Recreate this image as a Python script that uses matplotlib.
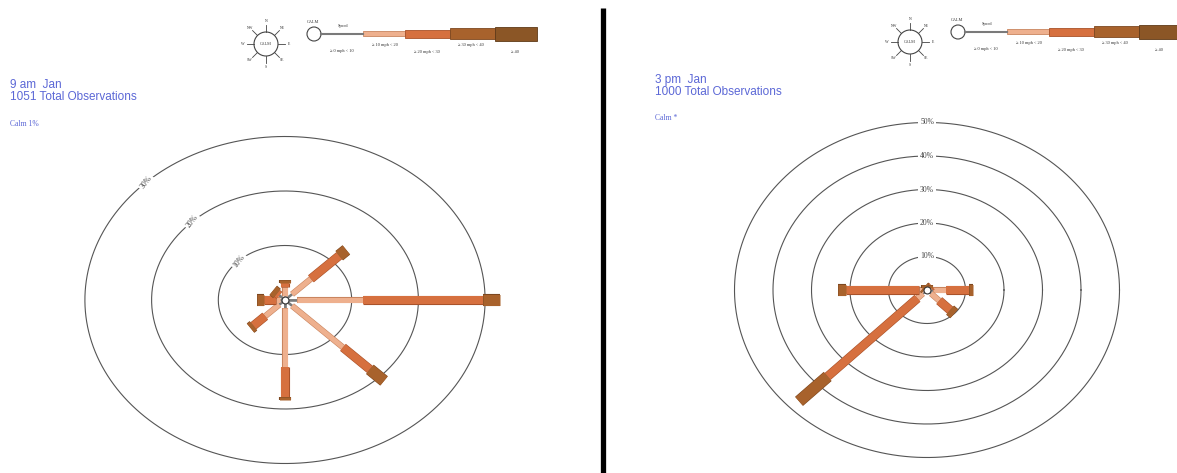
import numpy as np
import matplotlib.pyplot as plt
import matplotlib.patheffects as pe
from matplotlib.patches import Circle, Rectangle

W, H = 1177, 473

directions = ['N', 'NE', 'E', 'SE', 'S', 'SW', 'W', 'NW']
bearings = [0, 45, 90, 135, 180, 225, 270, 315]
speed_labels = ['≥ 0 mph < 10', '≥ 10 mph < 20', '≥ 20 mph < 30', '≥ 30 mph < 40', '≥ 40']
speed_colors = ['#7a7a7a', '#eeb08e', '#d6703f', '#a8622c', '#8b5626']
speed_edges = ['#7a7a7a', '#c9855f', '#a9522a', '#7d4820', '#5f3a18']
speed_widths = [1.5, 5, 8, 11, 14]  # px

# 9 am Jan, % of observations per direction and speed class
am_0_10 = [0.8, 1.5, 1.8, 1.5, 1.5, 1.2, 0.8, 1.2]
am_10_20 = [1.5, 4.0, 9.9, 10.8, 10.8, 3.0, 0.6, 0.0]
am_20_30 = [0.8, 6.0, 18.0, 5.7, 5.5, 2.5, 1.8, 0.5]
am_30_40 = [0.6, 1.5, 2.5, 3.0, 0.6, 0.6, 1.0, 0.8]
am_40 = [0, 0, 0, 0, 0, 0, 0, 0]

# 3 pm Jan
pm_0_10 = [0.6, 0.8, 1.5, 1.5, 0.6, 1.5, 1.0, 0.6]
pm_10_20 = [0.0, 0.5, 3.5, 3.0, 0.0, 2.0, 1.0, 0.0]
pm_20_30 = [0.0, 0.4, 6.0, 4.0, 0.0, 33.0, 19.0, 0.0]
pm_30_40 = [0.8, 0.0, 1.0, 1.5, 0.0, 10.5, 2.0, 0.5]
pm_40 = [0, 0, 0, 0, 0, 0, 0, 0]

am_rings = [10, 20, 30]
pm_rings = [10, 20, 30, 40, 50]

blue = '#5b67d6'
serif = ['Liberation Serif', 'DejaVu Serif']
sans = ['Liberation Sans', 'DejaVu Sans']

fig = plt.figure(figsize=(W / 100, H / 100), dpi=100)

# overlay in pixel units for titles, legends and divider
ov = fig.add_axes([0, 0, 1, 1])
ov.set_xlim(0, W)
ov.set_ylim(H, 0)
ov.axis('off')


def rose(x0, x1, cx, cy, sx, sy, rings, lab_ang, lab_rot, classes):
    ax = fig.add_axes([x0 / W, 0, (x1 - x0) / W, 1])
    ax.set_xlim((x0 - cx) / sx, (x1 - cx) / sx)
    ax.set_ylim((cy - H) / sy, cy / sy)
    ax.axis('off')
    t = np.linspace(0, 2 * np.pi, 400)
    for r in rings:
        ax.plot(r * np.cos(t), r * np.sin(t), color='#555555', lw=0.8, zorder=1)
        a = np.radians(lab_ang)
        ax.text(r * np.cos(a), r * np.sin(a), f'{r}%', rotation=lab_rot,
                ha='center', va='center', fontsize=5.5, color='#444444',
                family=serif, zorder=2,
                bbox=dict(fc='white', ec='none', pad=1.2))
    for i, b in enumerate(bearings):
        a = np.radians(90 - b)
        start = 0.0
        for k, vals in enumerate(classes):
            v = vals[i]
            if v <= 0:
                continue
            end = start + v
            lw = speed_widths[k] * 0.72
            ax.plot([start * np.cos(a), end * np.cos(a)],
                    [start * np.sin(a), end * np.sin(a)],
                    color=speed_colors[k], lw=lw, solid_capstyle='butt', zorder=3 + k,
                    path_effects=[pe.Stroke(linewidth=lw + 0.8, foreground=speed_edges[k]),
                                  pe.Normal()])
            start = end
    ax.plot(0, 0, 'o', ms=5, mfc='white', mec='#333333', mew=0.8, zorder=10)
    return ax


def legend(cx, cy):
    # compass
    ov.add_patch(Circle((cx, cy), 12, fc='white', ec='#444444', lw=0.8))
    ov.text(cx, cy, 'CALM', ha='center', va='center', fontsize=3, family=serif, color='#333333')
    for d, b in zip(directions, bearings):
        a = np.radians(90 - b)
        ov.plot([cx + 12 * np.cos(a), cx + 19 * np.cos(a)],
                [cy - 12 * np.sin(a), cy - 19 * np.sin(a)], color='#444444', lw=0.6)
        ov.text(cx + 23 * np.cos(a), cy - 23 * np.sin(a), d, ha='center', va='center',
                fontsize=2.8, family=serif, color='#333333')
    # calm circle and speed bar
    by = cy - 10
    ov.add_patch(Circle((cx + 48, by), 7, fc='white', ec='#444444', lw=0.8))
    ov.text(cx + 47, by - 12, 'CALM', ha='center', va='center', fontsize=3.2, family=serif, color='#333333')
    ov.text(cx + 77, by - 8, 'Speed', ha='center', va='center', fontsize=3.2, family=serif, color='#333333')
    ov.plot([cx + 55, cx + 97], [by, by], color=speed_colors[0], lw=1.5)
    edges = [cx + 97, cx + 139, cx + 184, cx + 229, cx + 271]
    for k in range(1, 5):
        h = speed_widths[k]
        ov.add_patch(Rectangle((edges[k - 1], by - h / 2), edges[k] - edges[k - 1], h,
                               fc=speed_colors[k], ec=speed_edges[k], lw=0.6))
    lab_pos = [(cx + 76, by + 17), (cx + 119, by + 11), (cx + 161, by + 18),
               (cx + 205, by + 11), (cx + 249, by + 18)]
    for (x, y), s in zip(lab_pos, speed_labels):
        ov.text(x, y, s, ha='center', va='center', fontsize=3.2, family=serif, color='#333333')


rose(0, 598, 285, 300, 6.67, 5.45, am_rings, 134, 52,
     [am_0_10, am_10_20, am_20_30, am_30_40, am_40])
rose(607, W, 927, 290, 3.85, 3.35, pm_rings, 90, 0,
     [pm_0_10, pm_10_20, pm_20_30, pm_30_40, pm_40])

legend(266, 44)
legend(910, 42)

ov.text(10, 85, '9 am  Jan', fontsize=8.5, family=sans, color=blue, va='center')
ov.text(10, 97, '1051 Total Observations', fontsize=8.5, family=sans, color=blue, va='center')
ov.text(10, 124, 'Calm 1%', fontsize=5.5, family=serif, color=blue, va='center')
ov.text(655, 80, '3 pm  Jan', fontsize=8.5, family=sans, color=blue, va='center')
ov.text(655, 92, '1000 Total Observations', fontsize=8.5, family=sans, color=blue, va='center')
ov.text(655, 118, 'Calm *', fontsize=5.5, family=serif, color=blue, va='center')

ov.plot([602.5, 602.5], [8, H], color='black', lw=3.8, solid_capstyle='butt')

fig.savefig('out.png', dpi=100)
